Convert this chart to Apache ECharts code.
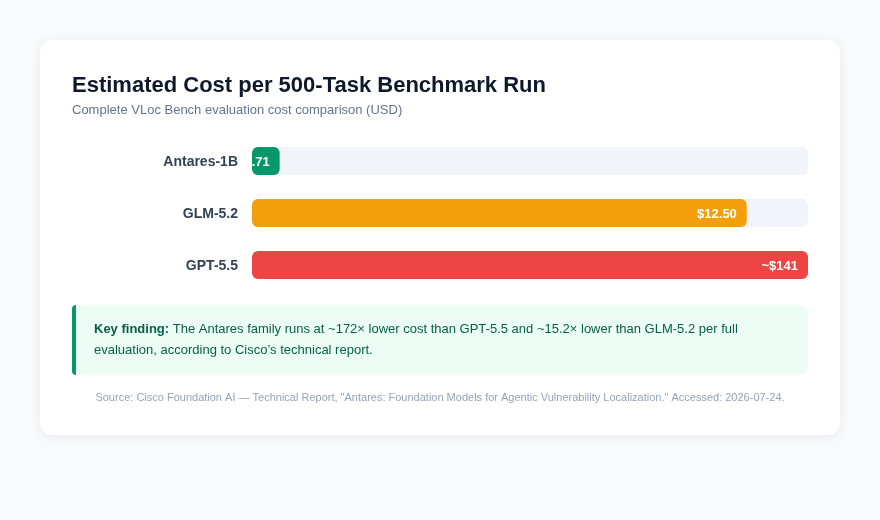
<!DOCTYPE html>
<html>
<head>
<meta charset="utf-8">
<script src="https://cdn.jsdelivr.net/npm/echarts@6/dist/echarts.min.js"></script>
<style>
html,body{margin:0;padding:0;background:#f8fafc;}
#c{width:880px;height:520px;}
</style>
</head>
<body>
<div id="c"></div>
<script>
const models = ['Antares-1B', 'GLM-5.2', 'GPT-5.5'];
const costLabels = ['$0.71', '$12.50', '~$141'];
const barShare = [5, 89, 100]; // bar length as % of track
const barColors = ['#059669', '#f59e0b', '#ef4444'];

const FONT = '"Liberation Sans", Arial, Helvetica, sans-serif';
const chart = echarts.init(document.getElementById('c'), null, {renderer: 'canvas'});

const data = models.map((m, i) => [barShare[i], i]);

chart.setOption({
  backgroundColor: '#f8fafc',
  animation: false,
  textStyle: {fontFamily: FONT},
  grid: {left: 252, right: 72, top: 135, bottom: 229, containLabel: false},
  xAxis: {type: 'value', min: 0, max: 100, show: false},
  yAxis: {
    type: 'category', data: models, inverse: true,
    axisLine: {show: false}, axisTick: {show: false}, splitLine: {show: false},
    axisLabel: {
      margin: 14, formatter: '{a|{value}}',
      rich: {a: {color: '#334155', fontSize: 14, fontWeight: 'bold', fontFamily: FONT, padding: [2, 0, 0, 0]}}
    }
  },
  graphic: [
    {type: 'rect', z: -10, shape: {x: 40, y: 40, width: 800, height: 395, r: 12},
     style: {fill: '#ffffff', shadowBlur: 12, shadowColor: 'rgba(15,23,42,0.07)', shadowOffsetY: 2}},
    {type: 'text', left: 72, top: 75, style: {text: 'Estimated Cost per 500-Task Benchmark Run', fill: '#0f172a', font: 'bold 22px ' + FONT}},
    {type: 'text', left: 72, top: 104, style: {text: 'Complete VLoc Bench evaluation cost comparison (USD)', fill: '#64748b', font: '13px ' + FONT}},
    {type: 'rect', shape: {x: 72, y: 305, width: 736, height: 70, r: 8}, style: {fill: '#ecfdf5'}},
    {type: 'rect', shape: {x: 72, y: 305, width: 4, height: 70, r: [8, 0, 0, 8]}, style: {fill: '#059669'}, z: 10},
    {type: 'text', left: 94, top: 319, z: 11, style: {
      text: '{b|Key finding:} The Antares family runs at ~172\u00d7 lower cost than GPT-5.5 and ~15.2\u00d7 lower than GLM-5.2 per full\nevaluation, according to Cisco\u2019s technical report.',
      fill: '#065f46', font: '13px ' + FONT, lineHeight: 21,
      rich: {b: {fontWeight: 'bold', fontSize: 13, fill: '#065f46', lineHeight: 21, fontFamily: FONT}}
    }},
    {type: 'text', x: 440, y: 398, style: {
      text: 'Source: Cisco Foundation AI \u2014 Technical Report, "Antares: Foundation Models for Agentic Vulnerability Localization." Accessed: 2026-07-24.',
      fill: '#94a3b8', font: '11px ' + FONT, align: 'center', verticalAlign: 'middle'}}
  ],
  series: [{
    type: 'custom',
    data: data,
    encode: {x: 0, y: 1},
    renderItem: function (params, api) {
      const idx = api.value(1);
      const start = api.coord([0, idx]);
      const end = api.coord([api.value(0), idx]);
      const full = api.coord([100, idx]);
      const h = 28;
      const y = start[1] - h / 2;
      const w = end[0] - start[0];
      return {
        type: 'group',
        children: [
          {type: 'rect', shape: {x: start[0], y: y, width: full[0] - start[0], height: h, r: 6}, style: {fill: '#f1f5f9'}},
          {type: 'group',
           clipPath: {type: 'rect', shape: {x: start[0], y: y, width: w, height: h}},
           children: [
             {type: 'rect', shape: {x: start[0], y: y, width: w, height: h, r: 6}, style: {fill: barColors[idx]}},
             {type: 'text', style: {text: costLabels[idx], x: end[0] - 10, y: start[1] + 1, fill: '#ffffff',
               font: 'bold 13px ' + FONT, align: 'right', verticalAlign: 'middle'}}
           ]}
        ]
      };
    }
  }]
});
</script>
</body>
</html>
